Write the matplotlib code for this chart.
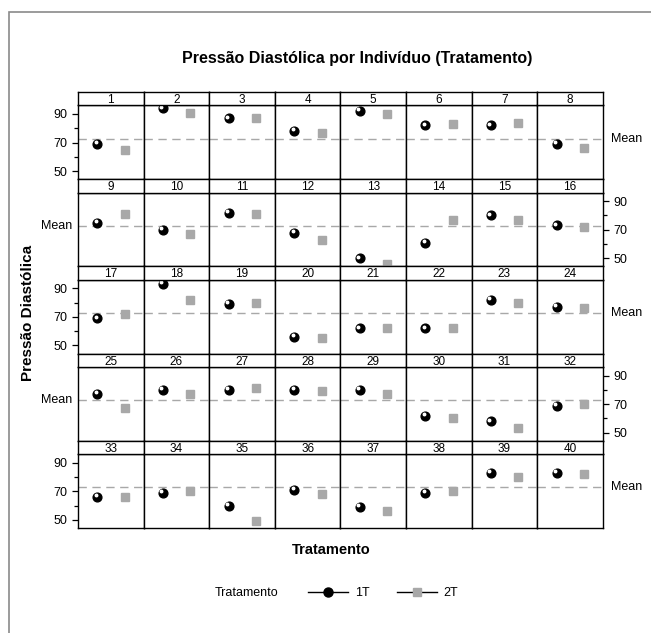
import matplotlib
matplotlib.use("Agg")
import matplotlib.pyplot as plt
import matplotlib.transforms as mtransforms
from matplotlib.lines import Line2D
from matplotlib.patches import Rectangle
import numpy as np

plt.rcParams['font.family'] = ['Liberation Sans Narrow', 'Liberation Sans', 'DejaVu Sans']

# Pressao diastolica de cada individuo nos dois tratamentos
individuos = list(range(1, 41))
trat_1T = [69, 94, 87, 78, 92, 82, 82, 69,
           75, 70, 82, 68, 50, 61, 80, 73,
           69, 93, 79, 56, 62, 62, 82, 77,
           77, 80, 80, 80, 80, 62, 58, 69,
           66, 69, 60, 71, 59, 69, 83, 83]
trat_2T = [65, 91, 87, 77, 90, 83, 84, 66,
           81, 67, 81, 63, 46, 77, 77, 72,
           72, 82, 80, 55, 62, 62, 80, 76,
           67, 77, 81, 79, 77, 60, 53, 70,
           66, 70, 49, 68, 56, 70, 80, 82]
tratamentos = ["1T", "2T"]
yticks = [50, 70, 90]
yminor = [60, 80]

media = np.mean(trat_1T + trat_2T)

W, H = 651, 633
fig = plt.figure(figsize=(W / 100, H / 100), dpi=100)

# moldura cinza
fig.patches.append(Rectangle((9 / W, -0.1), 1.2, 1.1 - 12 / H, transform=fig.transFigure,
                             fill=False, edgecolor='#8a8a8a', linewidth=1.2))

left, colw, top, rowh, striph = 78, 65.6, 92, 87.2, 13.4
ncol, nrow = 8, 5
gray = '#a8a8a8'

for r in range(nrow):
    for c in range(ncol):
        i = r * ncol + c
        strip_top = top + r * rowh
        panel_top = strip_top + striph
        panel_bot = top + (r + 1) * rowh
        x0 = (left + c * colw) / W
        ax = fig.add_axes([x0, 1 - panel_bot / H, colw / W, (panel_bot - panel_top) / H])
        sax = fig.add_axes([x0, 1 - panel_top / H, colw / W, striph / H])
        sax.set_xticks([])
        sax.set_yticks([])
        for s in sax.spines.values():
            s.set_linewidth(1.0)
        sax.text(0.5, 0.4, str(individuos[i]), ha='center', va='center', fontsize=8.5,
                 transform=sax.transAxes)

        ax.axhline(media, color=gray, lw=1.0, ls=(0, (6, 4)), zorder=1)
        ax.plot([1], [trat_1T[i]], 'o', color='black', ms=6.3, zorder=3)
        hl = mtransforms.offset_copy(ax.transData, fig=fig, x=-1.2, y=1.2, units='points')
        ax.plot([1], [trat_1T[i]], 'o', color='white', ms=1.8, transform=hl, zorder=4)
        ax.plot([2], [trat_2T[i]], 's', color=gray, ms=5.5, zorder=3)
        ax.set_xlim(0.29, 2.69)
        ax.set_ylim(44.3, 96)
        ax.set_xticks([])
        for s in ax.spines.values():
            s.set_linewidth(1.0)

        ax.set_yticks(yticks)
        ax.set_yticks(yminor, minor=True)
        ax.tick_params(axis='y', which='major', length=4.5, width=0.9, labelsize=9, pad=3)
        ax.tick_params(axis='y', which='minor', length=3, width=0.9)
        ax.tick_params(axis='y', which='both', left=False, right=False,
                       labelleft=False, labelright=False)
        ytr = ax.get_yaxis_transform()
        if r % 2 == 0:
            if c == 0:
                ax.tick_params(axis='y', which='both', left=True, labelleft=True)
            if c == ncol - 1:
                ax.annotate("Mean", xy=(1, media), xycoords=ytr, xytext=(6, 0),
                            textcoords='offset points', ha='left', va='center', fontsize=9)
        else:
            if c == 0:
                ax.annotate("Mean", xy=(0, media), xycoords=ytr, xytext=(-4.5, 0),
                            textcoords='offset points', ha='right', va='center', fontsize=9)
            if c == ncol - 1:
                ax.tick_params(axis='y', which='both', right=True, labelright=True)

fig.text(357 / W, 1 - 58 / H, "Pressão Diastólica por Indivíduo (Tratamento)",
         ha='center', va='center', fontsize=11.5, fontweight='bold')
fig.text(28 / W, 1 - 313 / H, "Pressão Diastólica", rotation=90, ha='center', va='center',
         fontsize=11, fontweight='bold')
fig.text(331 / W, 1 - 550 / H, "Tratamento", ha='center', va='center',
         fontsize=10.5, fontweight='bold')

# legenda
fig.text(247 / W, 1 - 593 / H, "Tratamento", ha='center', va='center', fontsize=9)
h1 = Line2D([], [], color='black', lw=1.0, marker='o', ms=6.5)
h2 = Line2D([], [], color='black', lw=1.0, marker='s', ms=6, markerfacecolor=gray,
            markeredgecolor=gray)
fig.legend([h1, h2], tratamentos, loc='center', bbox_to_anchor=(383 / W, 1 - 593 / H),
           ncol=2, frameon=False, fontsize=9, handlelength=3.2, handletextpad=0.5,
           columnspacing=2.2)

fig.savefig("out.png", dpi=100)
